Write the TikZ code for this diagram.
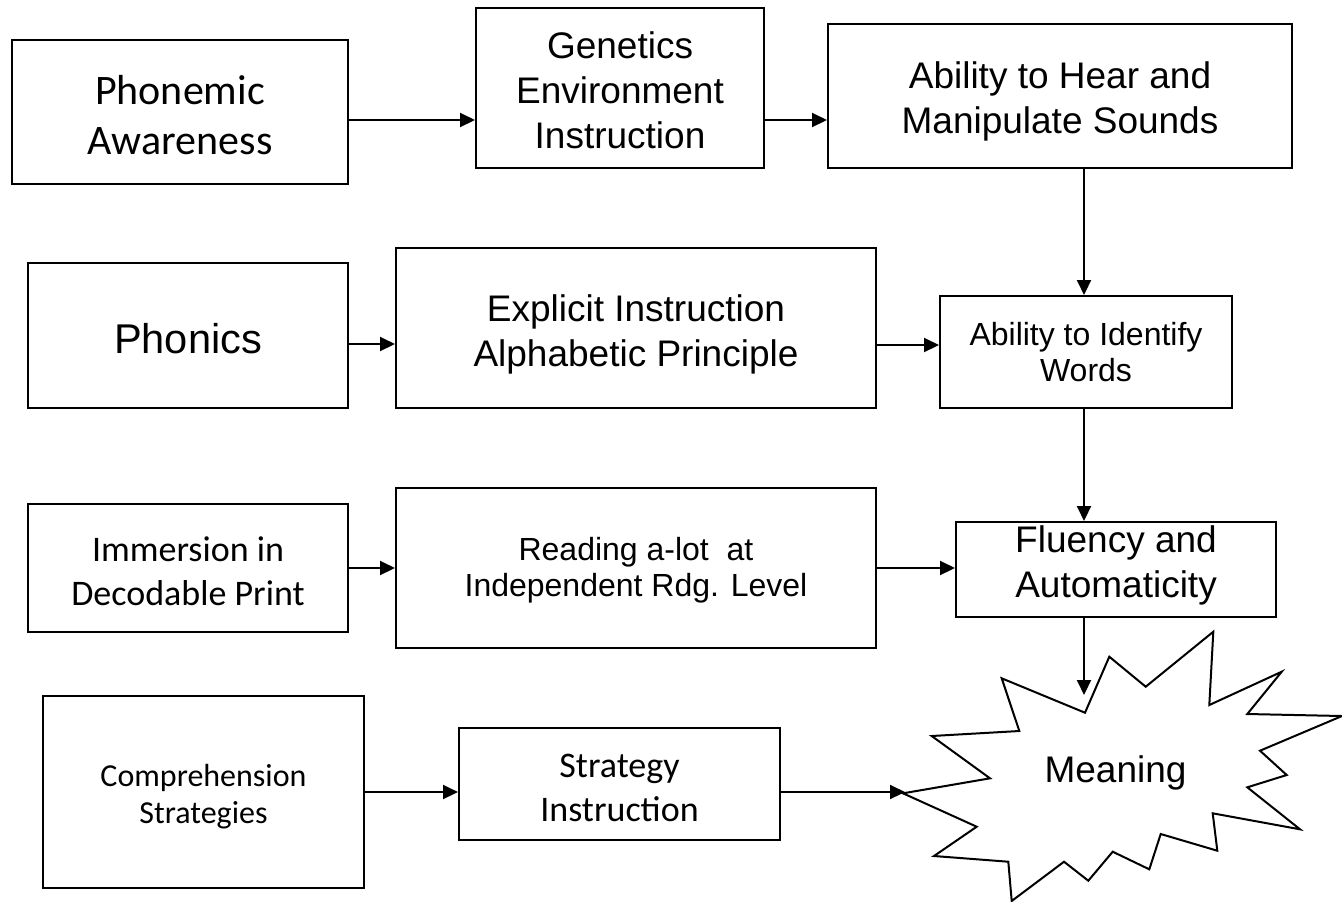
\documentclass[tikz,border=0pt]{standalone}
\usepackage{fontspec}
\setmainfont{Liberation Sans}
\newfontfamily\calibri{Carlito}
\usetikzlibrary{arrows.meta}
\newcommand{\arialbig}{\fontsize{18.5pt}{22.5pt}\selectfont}
\newcommand{\arialsmall}{\fontsize{16pt}{18pt}\selectfont}
\newcommand{\calbig}{\calibri\fontsize{21pt}{25pt}\selectfont}
\newcommand{\calmid}{\calibri\fontsize{18pt}{22pt}\selectfont}
\newcommand{\calsmall}{\calibri\fontsize{16pt}{18.5pt}\selectfont}

\begin{document}
\begin{tikzpicture}[
        x=0.5pt, y=-0.5pt,
        every node/.style={inner sep=0pt, align=center},
        box/.style={draw, line width=1pt},
        link/.style={-{Triangle[length=7.5pt,width=7pt]}, line width=1pt},
      ]
      \useasboundingbox (0,0) rectangle (1342,901);
      % first row
      \node[box, minimum width=168pt, minimum height=72pt] (pa) at (180,112) {};
      \node[font=\calbig] (pa-t) at ([yshift=-1.5pt]pa.center) {Phonemic\\Awareness};
      \node[box, minimum width=144pt, minimum height=80pt] (gen) at (620,88) {};
      \node[font=\arialbig] (gen-t) at ([yshift=-1pt]gen.center) {Genetics\\Environment\\Instruction};
      \node[box, minimum width=232pt, minimum height=72pt] (hear) at (1060,96) {};
      \node[font=\arialbig] (hear-t) at ([yshift=-2.5pt]hear.center) {Ability to Hear and\\Manipulate Sounds};
      % second row
      \node[box, minimum width=160pt, minimum height=72.5pt] (phon) at (188,335.5) {};
      \node[font=\fontsize{20.8pt}{25pt}\selectfont] (phon-t) at ([yshift=-1.5pt]phon.center) {Phonics};
      \node[box, minimum width=240pt, minimum height=80pt] (expl) at (636,328) {};
      \node[font=\arialbig] (expl-t) at ([yshift=-3pt]expl.center) {Explicit Instruction\\Alphabetic Principle};
      \node[box, minimum width=146pt, minimum height=56pt] (ident) at (1086,352) {};
      \node[font=\arialsmall] (ident-t) at (ident.center) {Ability to Identify\\Words};
      % third row
      \node[box, minimum width=160pt, minimum height=64pt] (imm) at (188,568) {};
      \node[font=\calmid] (imm-t) at ([yshift=-1.5pt]imm.center) {Immersion in\\Decodable Print};
      \node[box, minimum width=240pt, minimum height=80pt] (read) at (636,568) {};
      \node[font=\arialsmall] (read-t) at ([yshift=-1pt]read.center) {Reading a-lot\ \ at\\Independent Rdg. Level};
      \node[box, minimum width=160pt, minimum height=47.5pt] (flu) at (1116,569.5) {};
      \node[font=\arialbig] (flu-t) at ([yshift=2pt]flu.center) {Fluency and\\Automaticity};
      % fourth row
      \node[box, minimum width=160.5pt, minimum height=96pt] (comp) at (203.5,792) {};
      \node[font=\calsmall] (comp-t) at ([yshift=-2.5pt]comp.center) {Comprehension\\Strategies};
      \node[box, minimum width=160.5pt, minimum height=56pt] (strat) at (619.5,784) {};
      \node[font=\calmid] (strat-t) at ([yshift=-2pt]strat.center) {Strategy\\Instruction};
      % the burst
      \draw[line width=1pt] (1213.3,631.7) -- (1209.3,705) -- (1281.7,671.7) -- (1247.3,714)
        -- (1342,716) -- (1260,750.7) -- (1286.7,775) -- (1247.3,787.3) -- (1300,829.3)
        -- (1212.7,813.3) -- (1217.3,850.7) -- (1160.7,834) -- (1149.3,869.3) -- (1112.7,851.7)
        -- (1088.3,880.7) -- (1064,861.7) -- (1011.7,901) -- (1008.3,861.7) -- (934,856)
        -- (976.7,826.7) -- (903,793.3) -- (990,778.3) -- (931.7,736) -- (1019.3,731)
        -- (1001.7,678.3) -- (1085,712.7) -- (1109.3,656.7) -- (1145.7,686.7) -- cycle;
      \node[font=\arialbig] (mean) at (1115.5,773) {Meaning};
      \coordinate (mtop) at (1084,695);
      \coordinate (mleft) at (905,792);
      % connectors
      \draw[link] ([yshift=-4pt]pa.east) -- ([yshift=-4pt]pa.east -| gen.west);
      \draw[link] ([yshift=-16pt]gen.east) -- ([yshift=-16pt]gen.east -| hear.west);
      \draw[link] (hear.south -| mtop) -- (ident.north -| mtop);
      \draw[link] ([yshift=-4.25pt]phon.east) -- ([yshift=-4.25pt]phon.east -| expl.west);
      \draw[link] ([yshift=-8.5pt]expl.east) -- ([yshift=-8.5pt]expl.east -| ident.west);
      \draw[link] (ident.south -| mtop) -- (flu.north -| mtop);
      \draw[link] (imm.east) -- (imm.east -| read.west);
      \draw[link] (read.east) -- (read.east -| flu.west);
      \draw[link] (flu.south -| mtop) -- (mtop);
      \draw[link] (comp.east) -- (comp.east -| strat.west);
      \draw[link] ([yshift=-4pt]strat.east) -- (mleft);
\end{tikzpicture}
\end{document}
